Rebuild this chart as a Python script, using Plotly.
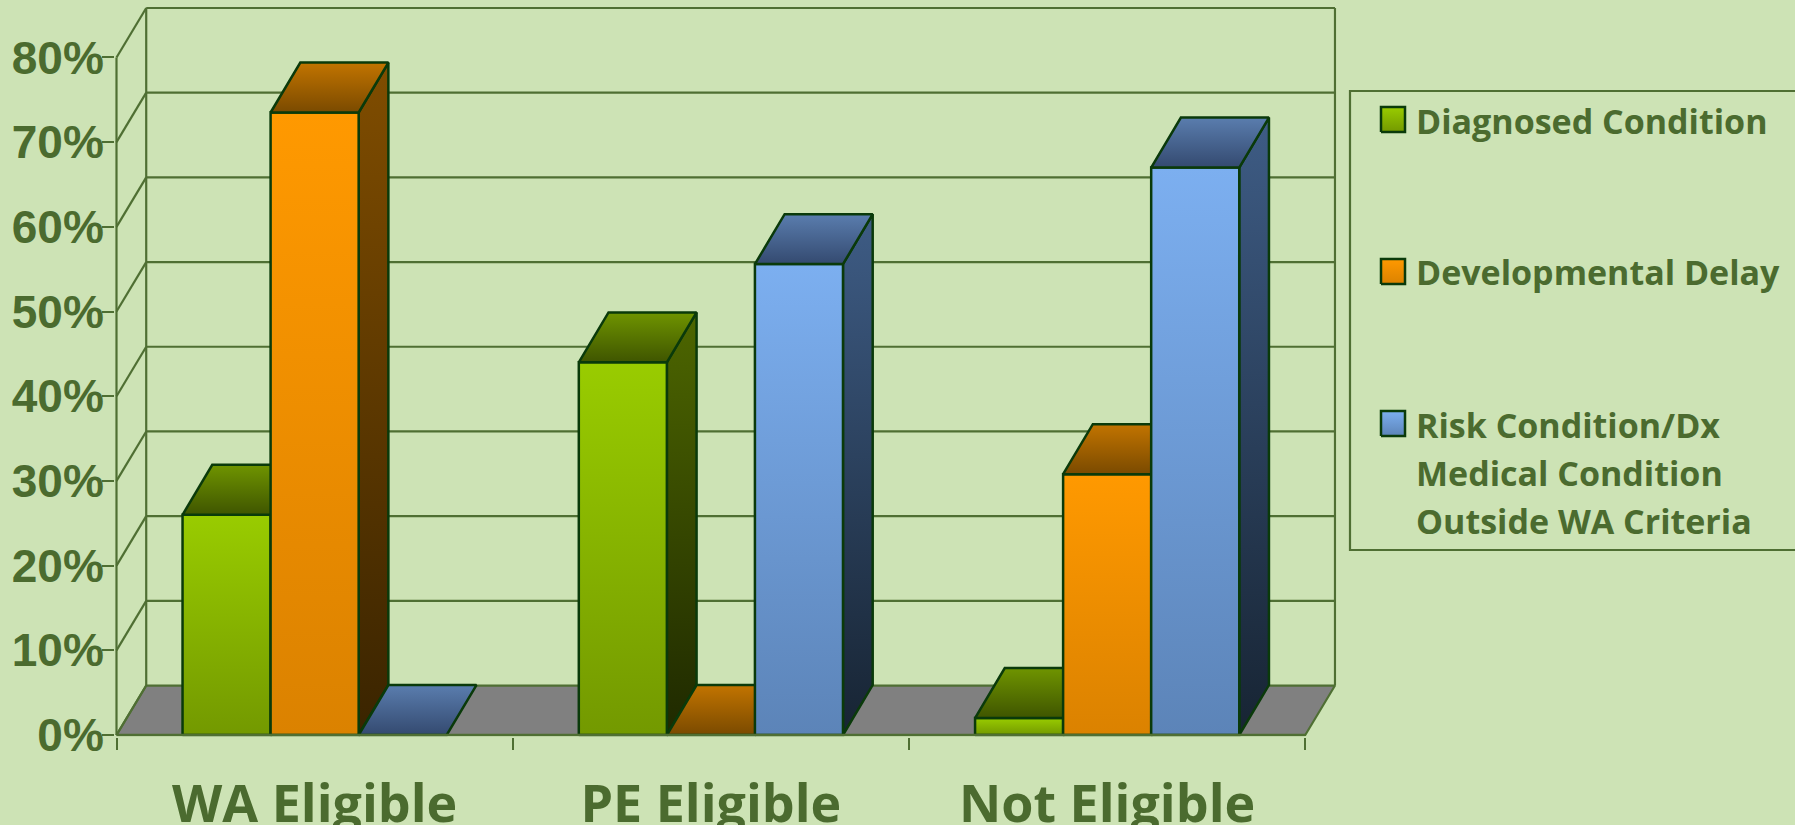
import plotly.graph_objects as go

categories = ["WA Eligible", "PE Eligible", "Not Eligible"]
diagnosed = [26.0, 44.0, 2.0]
developmental = [73.5, 0.0, 30.8]
risk = [0.0, 55.6, 67.0]
y_ticks = [0, 10, 20, 30, 40, 50, 60, 70, 80]
y_labels = ["0%", "10%", "20%", "30%", "40%", "50%", "60%", "70%", "80%"]

series = [diagnosed, developmental, risk]
# front top/bottom, side top/bottom, cap back/front
palette = [
    dict(front=("#99CC00", "#739900"), side=("#4D6600", "#1F2900"), cap=("#6F9400", "#3F5500")),
    dict(front=("#FF9900", "#DB8200"), side=("#804D00", "#3A2400"), cap=("#C27400", "#7A4A00")),
    dict(front=("#7CAFF0", "#5C84B8"), side=("#3E5C85", "#172433"), cap=("#5A7DAE", "#344A70")),
]

W, H = 1795, 825
PX_L, PX_R, PX_B, PX_T = 116.5, 1335, 735, 8
PAD = 1.5
BG = "#CDE3B5"
GRID = "#4F6F33"
TEXT = "#4B6B2F"
EDGE = "#0A3A0A"
LEGEND_FONT = "Open Sans"

DX, DY = 0.0750, 5.84
BAR_DY = 5.9
N = len(categories)
BAR = 1 / 4.5
SIDE = 0.75 * BAR
X_TOP = N + DX
Y_TOP = y_ticks[-1] + DY
PAD_X = PAD * X_TOP / (PX_R - PX_L)
PAD_Y = PAD * Y_TOP / (PX_B - PX_T)

fig = go.Figure()


def line(xs, ys, width=2.2):
    fig.add_trace(go.Scatter(x=xs, y=ys, mode="lines", line=dict(color=GRID, width=width),
                             hoverinfo="skip", showlegend=False, cliponaxis=False))


def poly(xs, ys, top, bottom, xaxis="x", yaxis="y", width=2.5):
    fig.add_trace(go.Scatter(
        x=xs + xs[:1], y=ys + ys[:1], mode="lines", fill="toself",
        fillgradient=dict(type="vertical", colorscale=[[0, bottom], [1, top]]),
        line=dict(color=EDGE, width=width), xaxis=xaxis, yaxis=yaxis,
        hoverinfo="skip", showlegend=False, cliponaxis=False))


# floor
fig.add_trace(go.Scatter(x=[0, N, N + DX, DX, 0], y=[0, 0, DY, DY, 0], mode="lines", fill="toself",
                         fillcolor="#808080", line=dict(color=GRID, width=2.2),
                         hoverinfo="skip", showlegend=False, cliponaxis=False))
# walls
for v in y_ticks:
    if v:
        line([DX, N + DX], [v + DY, v + DY])
    line([0, DX], [v, v + DY])
line([0, 0], [0, y_ticks[-1]])
line([DX, DX], [DY, y_ticks[-1] + DY])
line([N + DX, N + DX], [DY, y_ticks[-1] + DY])

# bars
for c in range(N):
    for s, vals in enumerate(series):
        v = vals[c]
        x0 = c + SIDE + s * BAR
        x1 = x0 + BAR
        p = palette[s]
        if v > 0:
            poly([x1, x1 + DX, x1 + DX, x1], [0, BAR_DY, v + BAR_DY, v], *p["side"])
            poly([x0, x1, x1, x0], [0, 0, v, v], *p["front"])
        poly([x0, x1, x1 + DX, x0 + DX], [v, v, v + BAR_DY, v + BAR_DY], *p["cap"])
line([0, N], [0, 0], 2.5)

# legend swatches
swatch_tops = [107, 259, 411]
for top, p in zip(swatch_tops, palette):
    poly([1381, 1405, 1405, 1381], [top + 25, top + 25, top, top], *p["front"],
         xaxis="x2", yaxis="y2", width=2.5)

legend_lines = [
    ("Diagnosed Condition", 133),
    ("Developmental Delay", 284),
    ("Risk Condition/Dx", 437),
    ("Medical Condition", 485),
    ("Outside WA Criteria", 533),
]
annotations = [
    dict(text=f"<b>{t}</b>", x=1414 / W, y=1 - (b - 12) / H, xref="paper", yref="paper",
         xanchor="left", yanchor="middle", showarrow=False,
         font=dict(family=LEGEND_FONT, size=34, color=TEXT))
    for t, b in legend_lines
]

fig.update_layout(
    width=W, height=H, margin=dict(l=0, r=0, t=0, b=0, autoexpand=False),
    paper_bgcolor=BG, plot_bgcolor="rgba(0,0,0,0)", showlegend=False, annotations=annotations,
    shapes=[dict(type="path", xref="paper", yref="paper",
                 path=f"M 1 {1 - 91 / H} L {1350 / W} {1 - 91 / H} L {1350 / W} {1 - 550 / H} L 1 {1 - 550 / H}",
                 line=dict(color=GRID, width=2.2))],
    xaxis=dict(domain=[(PX_L - PAD) / W, (PX_R + PAD) / W], range=[-PAD_X, X_TOP + PAD_X],
               showgrid=False, zeroline=False, showline=False,
               tickmode="array", tickvals=[i + 0.5 for i in range(N)],
               ticktext=[f"<b>{c}</b>" for c in categories],
               ticks="outside", ticklen=22, tickcolor="rgba(0,0,0,0)",
               tickfont=dict(family=LEGEND_FONT, size=52, color=TEXT),
               minor=dict(ticks="outside", ticklen=12, tickwidth=2, tickcolor=GRID, dtick=1, tick0=0, showgrid=False)),
    yaxis=dict(domain=[1 - (PX_B + PAD) / H, 1 - (PX_T - PAD) / H], range=[-PAD_Y, Y_TOP + PAD_Y],
               showgrid=False, zeroline=False,
               showline=False, tickmode="array", tickvals=y_ticks, ticktext=[f"<b>{t}</b>" for t in y_labels],
               ticks="outside", ticklen=1, tickcolor="rgba(0,0,0,0)",
               tickfont=dict(family="Liberation Sans", size=46, color=TEXT),
               minor=dict(ticks="outside", ticklen=12, tickwidth=2, tickcolor=GRID, dtick=10, tick0=0, showgrid=False)),
    xaxis2=dict(domain=[0, 1], range=[0, W], visible=False, anchor="y2"),
    yaxis2=dict(domain=[0, 1], range=[H, 0], visible=False, anchor="x2"),
)

fig.write_html("out.html", config={"displayModeBar": False},
               post_script="document.body.style.margin='0';document.body.style.overflow='hidden';")
